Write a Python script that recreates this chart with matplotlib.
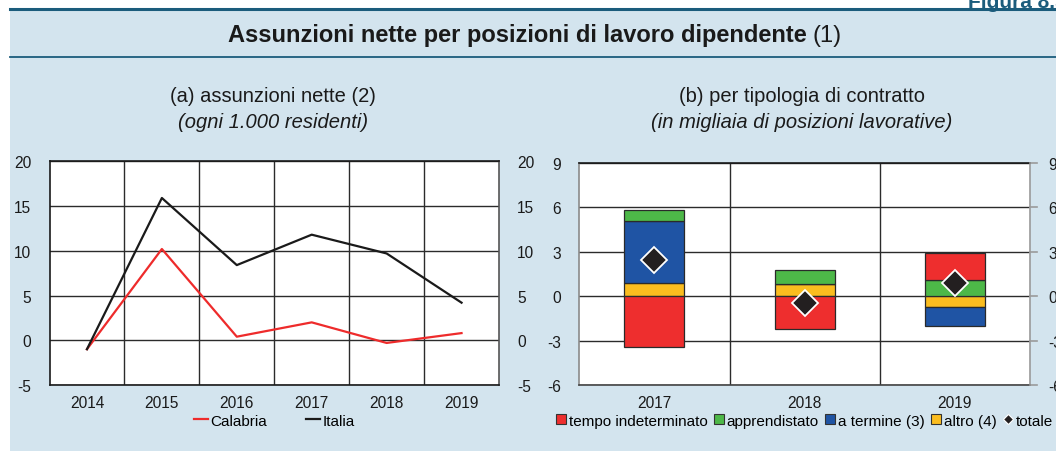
import matplotlib.pyplot as plt
import numpy as np
from matplotlib.patches import Rectangle
from matplotlib.lines import Line2D

plt.rcParams['font.family'] = ['Liberation Sans', 'DejaVu Sans']
plt.rcParams['axes.unicode_minus'] = False

# (a) net hires per 1,000 residents
anni_a = ['2014', '2015', '2016', '2017', '2018', '2019']
calabria = [-1.0, 10.2, 0.4, 2.0, -0.3, 0.8]
italia = [-1.0, 15.9, 8.4, 11.8, 9.7, 4.2]

# (b) by contract type, thousands of positions
anni_b = ['2017', '2018', '2019']
tempo_ind = [-3.4, -2.2, 1.8]
apprendistato = [0.75, 0.95, 1.12]
a_termine = [4.2, 0.0, -1.3]
altro = [0.87, 0.8, -0.7]
totale = [2.42, -0.45, 0.92]

W, H = 1056, 452
BG = '#d3e4ee'
TEAL = '#1b5c7c'
GRID = '#2b2b2b'
TXT = '#1a1a1a'

fig = plt.figure(figsize=(W / 100, H / 100), dpi=100)
fig.patch.set_facecolor('white')

def fx(px):
    return px / W

def fy(py):
    return 1 - py / H

fig.add_artist(Rectangle((fx(10), 0), 1, fy(10), transform=fig.transFigure,
                         facecolor=BG, edgecolor='none', zorder=-10))
fig.add_artist(Line2D([fx(10), 1], [fy(10), fy(10)], color=TEAL, lw=2.2, zorder=-5))
fig.add_artist(Line2D([fx(10), 1], [fy(57.8), fy(57.8)], color=TEAL, lw=1.3, zorder=-5))

fig.text(fx(968), fy(8), 'Figura 8.5', color=TEAL, fontsize=15, fontweight='bold',
         ha='left', va='baseline')

t = fig.text(fx(228), fy(42), 'Assunzioni nette per posizioni di lavoro dipendente',
             fontsize=17, fontweight='bold', color=TXT, ha='left', va='baseline')
fig.canvas.draw()
bb = t.get_window_extent()
fig.text((bb.x1 + 6) / W, fy(42), '(1)', fontsize=17, color=TXT, ha='left', va='baseline')

fig.text(fx(273), fy(97), '(a) assunzioni nette (2)', fontsize=14.5, ha='center', va='center', color=TXT)
fig.text(fx(273), fy(122), '(ogni 1.000 residenti)', fontsize=14.5, style='italic', ha='center', va='center', color=TXT)
fig.text(fx(802), fy(97), '(b) per tipologia di contratto', fontsize=14.5, ha='center', va='center', color=TXT)
fig.text(fx(802), fy(122), '(in migliaia di posizioni lavorative)', fontsize=14.5, style='italic', ha='center', va='center', color=TXT)

# ---- left panel
ax1 = fig.add_axes([fx(49.5), fy(386), fx(499 - 49.5), (386 - 162.3) / H])
x = np.arange(len(anni_a))
ax1.plot(x, calabria, color='#ee2b2b', lw=1.6, label='Calabria', zorder=3)
ax1.plot(x, italia, color=TXT, lw=1.6, label='Italia', zorder=3)
ax1.set_xlim(-0.5, len(anni_a) - 0.5)
ax1.set_ylim(-5, 20)
ax1.set_yticks([-5, 0, 5, 10, 15, 20])
ax1.set_xticks(x)
ax1.set_xticklabels(anni_a)
ax1.set_xticks(np.arange(0.5, len(anni_a) - 0.5), minor=True)
ax1.grid(True, which='minor', axis='x', color=GRID, lw=1)
ax1.grid(True, which='major', axis='y', color=GRID, lw=1)
ax1.set_axisbelow(True)
ax1.tick_params(which='both', length=0, labelsize=11.2, colors=TXT)
ax1.tick_params(axis='y', pad=13, labelright=True, labelleft=True)
ax1.tick_params(axis='x', pad=7)
for s in ax1.spines.values():
    s.set_color(TXT)
    s.set_linewidth(1.2)
ax1.spines['right'].set_color('#555555')
ax1.legend(loc='center', bbox_to_anchor=(0.5, -0.16), ncol=2, frameon=False,
           fontsize=11, handlelength=0.9, handletextpad=0.15, columnspacing=2.6)

# ---- right panel
ax2 = fig.add_axes([fx(579.3), fy(386), fx(1030 - 579.3), (386 - 164) / H])
xb = np.arange(len(anni_b))
bw = 0.4
serie = [(altro, '#fbbd1f'),
         (a_termine, '#1f54a4'),
         (apprendistato, '#4db848'),
         (tempo_ind, '#ee2e2e')]
pos = np.zeros(len(anni_b))
neg = np.zeros(len(anni_b))
for vals, col in serie:
    v = np.array(vals)
    bottoms = np.where(v >= 0, pos, neg)
    ax2.bar(xb, v, bw, bottom=bottoms, color=col, edgecolor='#2a2a2a', linewidth=0.9, zorder=3)
    pos = pos + np.where(v > 0, v, 0)
    neg = neg + np.where(v < 0, v, 0)
ax2.plot(xb, totale, ls='none', marker='D', ms=13, mfc='#231f20', mec='white', mew=1.3, zorder=4)
ax2.set_xlim(-0.5, len(anni_b) - 0.5)
ax2.set_ylim(-6, 9)
ax2.set_yticks([-6, -3, 0, 3, 6, 9])
ax2.set_xticks(xb)
ax2.set_xticklabels(anni_b)
ax2.set_xticks([0.5, 1.5], minor=True)
ax2.grid(True, which='minor', axis='x', color=GRID, lw=1)
ax2.grid(True, which='major', axis='y', color=GRID, lw=1)
ax2.set_axisbelow(True)
ax2.tick_params(which='both', length=0, labelsize=11.2, colors=TXT)
ax2.tick_params(axis='x', pad=7)
ax2.tick_params(axis='y', labelright=True, labelleft=True, pad=13)
for s in ax2.spines.values():
    s.set_linewidth(1.2)
ax2.spines['top'].set_color(TXT)
ax2.spines['bottom'].set_color('#444444')
ax2.spines['left'].set_color('#8a8a8a')
ax2.spines['right'].set_color('#9a9a9a')
# short grey ticks outside the right spine
for yv in ax2.get_yticks():
    ax2.plot([1.0, 1.016], [yv, yv], transform=ax2.get_yaxis_transform(), color='#9a9a9a',
             lw=1.2, clip_on=False, zorder=5)

handles = [Line2D([], [], ls='none', marker='s', ms=7, mfc=c, mec='#333333', mew=0.8)
           for c in ['#ee2e2e', '#4db848', '#1f54a4', '#fbbd1f']]
handles.append(Line2D([], [], ls='none', marker='D', ms=5, mfc='#231f20', mec='white', mew=0.8))
labels = ['tempo indeterminato', 'apprendistato', 'a termine (3)', 'altro (4)', 'totale']
ax2.legend(handles, labels, loc='center', bbox_to_anchor=(0.5, -0.16), ncol=5, frameon=False,
           fontsize=11, handlelength=0.6, handletextpad=0.2, columnspacing=0.45,
           borderpad=0, borderaxespad=0)

fig.savefig('out.png', dpi=100)
